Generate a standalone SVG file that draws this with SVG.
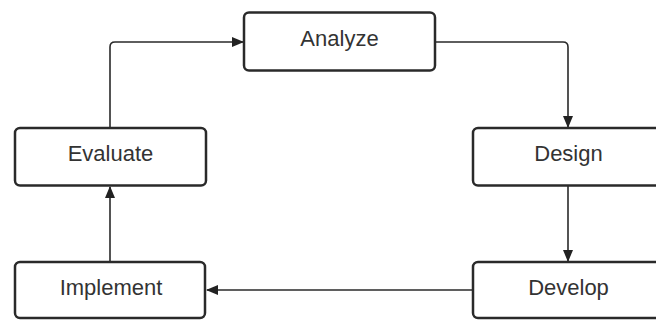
<svg xmlns="http://www.w3.org/2000/svg" width="656" height="320" viewBox="0 0 656 320">
<defs>
<marker id="arr" viewBox="0 0 12 10" refX="11" refY="5" markerWidth="12" markerHeight="10" markerUnits="userSpaceOnUse" orient="auto">
<path d="M0,0 L12,5 L0,10 Z" fill="#222"/>
</marker>
<style>
.box{fill:#fff;stroke:#2a2a2a;stroke-width:2.5}
.lbl{font-family:"Liberation Sans",Arial,sans-serif;font-size:22px;fill:#333;text-anchor:middle}
.conn{fill:none;stroke:#2a2a2a;stroke-width:1.6}
</style>
</defs>
<rect width="656" height="320" fill="#fff"/>
<g id="connectors">
<path class="conn" d="M110,128 L110,47 Q110,42 115,42 L243,42" marker-end="url(#arr)"/>
<path class="conn" d="M436,42 L563,42 Q568,42 568,47 L568,127" marker-end="url(#arr)"/>
<path class="conn" d="M568,186 L568,261" marker-end="url(#arr)"/>
<path class="conn" d="M473,290 L207,290" marker-end="url(#arr)"/>
<path class="conn" d="M110,262 L110,187" marker-end="url(#arr)"/>
</g>
<g id="analyze">
<rect class="box" x="244" y="12.5" width="191" height="58" rx="5"/>
<text class="lbl" x="339.5" y="46">Analyze</text>
</g>
<g id="design">
<rect class="box" x="473" y="128" width="192" height="57.5" rx="5"/>
<text class="lbl" x="568.5" y="161">Design</text>
</g>
<g id="develop">
<rect class="box" x="473" y="262" width="192" height="56" rx="5"/>
<text class="lbl" x="568.5" y="295">Develop</text>
</g>
<g id="implement">
<rect class="box" x="15" y="262" width="190" height="56" rx="5"/>
<text class="lbl" x="111" y="294.5">Implement</text>
</g>
<g id="evaluate">
<rect class="box" x="15" y="128" width="191" height="57.5" rx="5"/>
<text class="lbl" x="110.5" y="161">Evaluate</text>
</g>
</svg>
